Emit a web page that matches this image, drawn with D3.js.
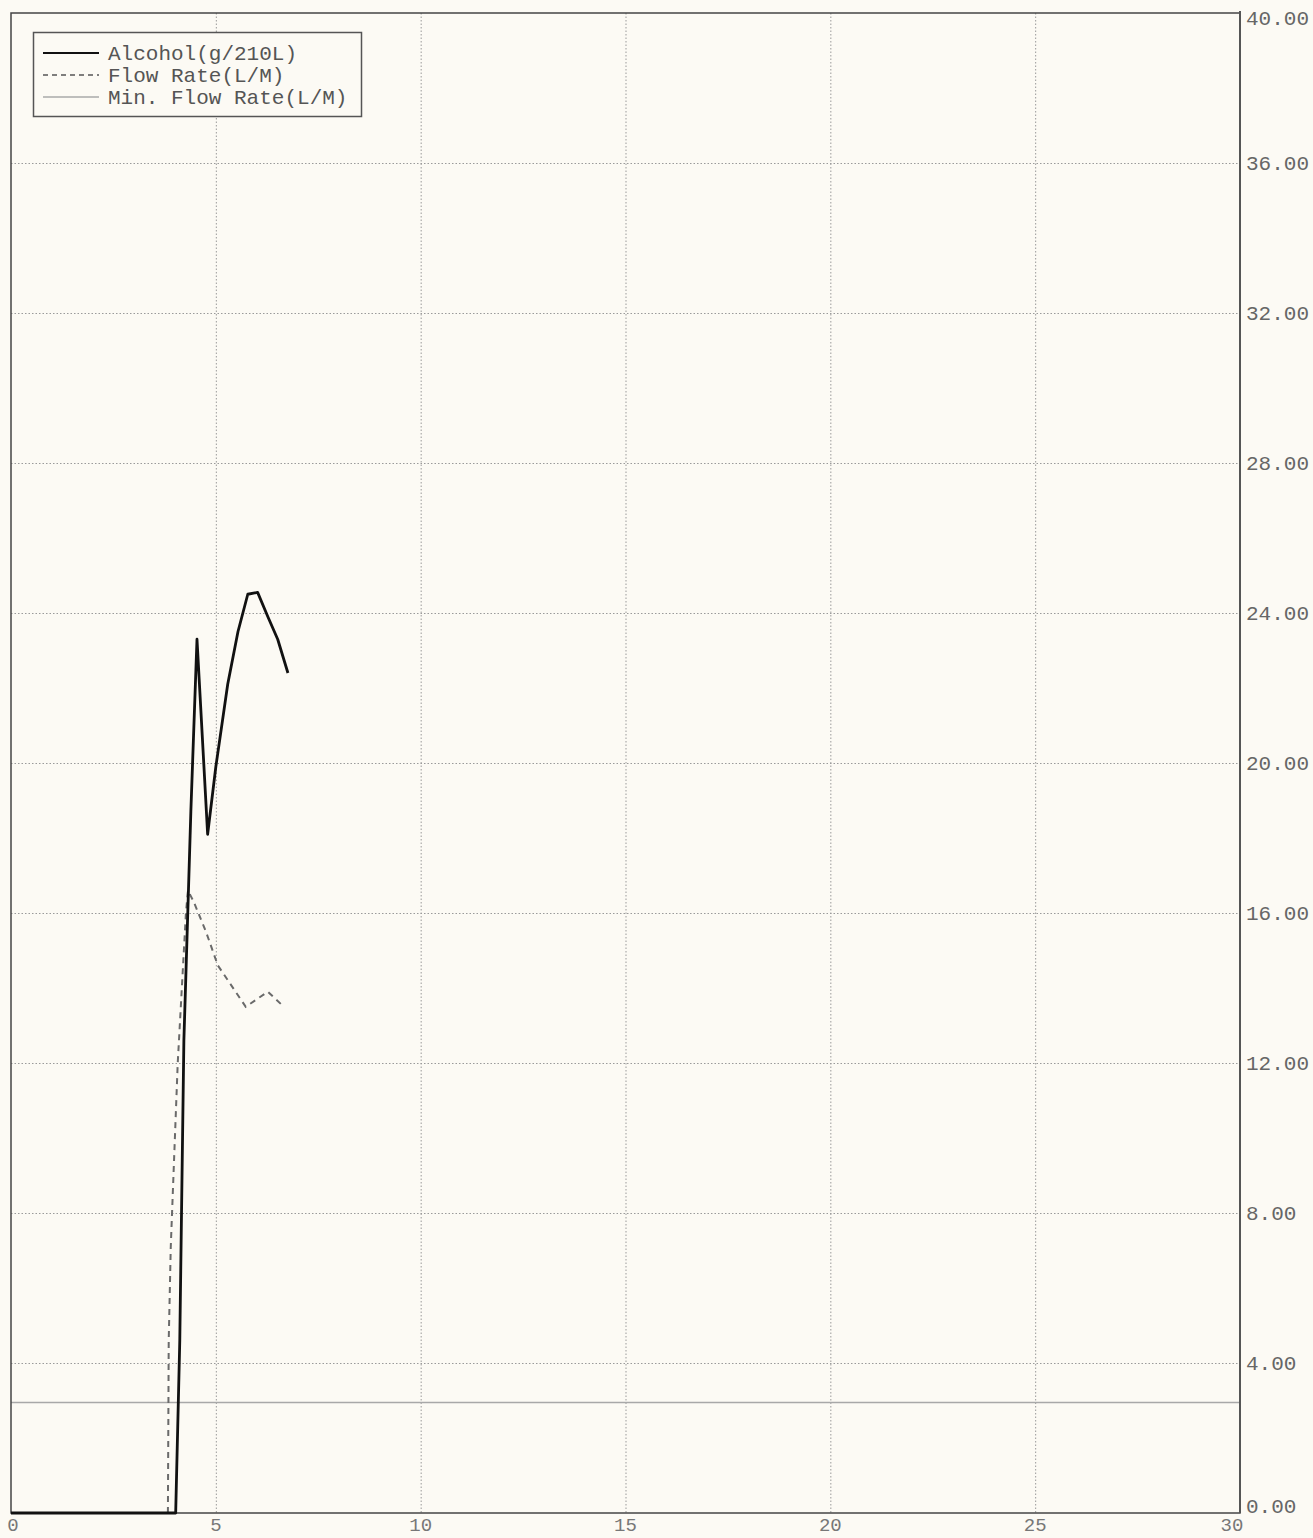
<!DOCTYPE html>
<html>
<head>
<meta charset="utf-8">
<script src="https://cdn.jsdelivr.net/npm/d3@7"></script>
<style>
  body { margin: 0; background: #fcfaf4; }
  text { font-family: "Liberation Mono", "DejaVu Sans Mono", monospace; }
</style>
</head>
<body>
<svg id="chart"></svg>
<script>
// time axis ticks and value axis ticks
const xTicks = [0, 5, 10, 15, 20, 25, 30];
const yTicks = [0, 4, 8, 12, 16, 20, 24, 28, 32, 36, 40];

// Alcohol (g/210L) trace
const alcoholX = [0, 4.02, 4.12, 4.22, 4.39, 4.54, 4.80, 5.00, 5.29, 5.54, 5.78, 6.02, 6.27, 6.51, 6.76];
const alcoholY = [0, 0, 4.6, 12.6, 18.7, 23.3, 18.1, 19.9, 22.1, 23.5, 24.5, 24.55, 23.9, 23.3, 22.4];

// Flow rate (L/M) trace
const flowX = [3.83, 3.85, 3.90, 4.07, 4.27, 4.32, 4.46, 4.76, 5.05, 5.73, 6.27, 6.66];
const flowY = [0, 4.6, 7.1, 12.0, 16.0, 16.6, 16.3, 15.5, 14.6, 13.5, 13.9, 13.5];

// minimum flow rate level
const minFlow = 2.95;

const legendNames = ["Alcohol(g/210L)", "Flow Rate(L/M)", "Min. Flow Rate(L/M)"];

const width = 1313;
const height = 1538;
const margin = { top: 13, right: 73, bottom: 25, left: 11 };

const svg = d3.select("#chart")
  .attr("width", width)
  .attr("height", height);

svg.append("rect")
  .attr("width", width)
  .attr("height", height)
  .attr("fill", "#fcfaf4");

const xScale = d3.scaleLinear()
  .domain([0, 30])
  .range([margin.left, width - margin.right]);
const yScale = d3.scaleLinear()
  .domain([0, 40])
  .range([height - margin.bottom, margin.top]);

// dotted grid
const grid = svg.append("g").attr("stroke", "#9a9a9a").attr("stroke-width", 1)
  .attr("stroke-dasharray", "1.5,2");
grid.selectAll("line.v")
  .data(xTicks.slice(1, -1))
  .enter()
  .append("line")
  .attr("x1", d => xScale(d) + 0.5)
  .attr("x2", d => xScale(d) + 0.5)
  .attr("y1", yScale(40))
  .attr("y2", yScale(0));
grid.selectAll("line.h")
  .data(yTicks.slice(1, -1))
  .enter()
  .append("line")
  .attr("x1", xScale(0))
  .attr("x2", xScale(30))
  .attr("y1", d => yScale(d) + 0.5)
  .attr("y2", d => yScale(d) + 0.5);

// min flow rate line
svg.append("line")
  .attr("x1", xScale(0))
  .attr("x2", xScale(30))
  .attr("y1", yScale(minFlow))
  .attr("y2", yScale(minFlow))
  .attr("stroke", "#a8a8a8")
  .attr("stroke-width", 1.5);

// frame
svg.append("rect")
  .attr("x", xScale(0))
  .attr("y", yScale(40))
  .attr("width", xScale(30) - xScale(0))
  .attr("height", yScale(0) - yScale(40))
  .attr("fill", "none")
  .attr("stroke", "#444")
  .attr("stroke-width", 1.5);

// right axis line a bit heavier
svg.append("line")
  .attr("x1", xScale(30))
  .attr("x2", xScale(30))
  .attr("y1", yScale(40) - 2)
  .attr("y2", yScale(0))
  .attr("stroke", "#555")
  .attr("stroke-width", 2);

// right axis labels
svg.append("g")
  .selectAll("text")
  .data(yTicks)
  .enter()
  .append("text")
  .attr("x", xScale(30) + 6)
  .attr("y", d => yScale(d) + (d === 40 ? 12 : d === 0 ? 0 : 7))
  .attr("font-size", 21)
  .attr("fill", "#666")
  .text(d => d3.format(".2f")(d));

// bottom axis labels
svg.append("g")
  .selectAll("text")
  .data(xTicks)
  .enter()
  .append("text")
  .attr("x", d => (d === 0 ? xScale(d) + 2 : d === 30 ? xScale(d) - 8 : xScale(d)))
  .attr("y", height - 7)
  .attr("text-anchor", "middle")
  .attr("font-size", 19)
  .attr("fill", "#777")
  .text(d => d);

const line = d3.line()
  .x(d => xScale(d[0]))
  .y(d => yScale(d[1]));

// flow rate trace
svg.append("path")
  .datum(flowX.map((x, i) => [x, flowY[i]]))
  .attr("d", line)
  .attr("fill", "none")
  .attr("stroke", "#6a6a6a")
  .attr("stroke-width", 2)
  .attr("stroke-dasharray", "6,5");

// alcohol trace
svg.append("path")
  .datum(alcoholX.map((x, i) => [x, alcoholY[i]]))
  .attr("d", line)
  .attr("fill", "none")
  .attr("stroke", "#111")
  .attr("stroke-width", 2.8)
  .attr("stroke-linejoin", "round");

// legend
const legend = svg.append("g");
legend.append("rect")
  .attr("x", 33.5)
  .attr("y", 32.5)
  .attr("width", 328)
  .attr("height", 84)
  .attr("fill", "#fcfaf4")
  .attr("stroke", "#555")
  .attr("stroke-width", 1.5);

const legendStyles = [
  { stroke: "#111", width: 2, dash: null },
  { stroke: "#555", width: 1.5, dash: "5,4" },
  { stroke: "#aaa", width: 1.5, dash: null }
];

legendNames.forEach((name, i) => {
  const y = 60 + i * 22;
  legend.append("line")
    .attr("x1", 43)
    .attr("x2", 99)
    .attr("y1", y - 7)
    .attr("y2", y - 7)
    .attr("stroke", legendStyles[i].stroke)
    .attr("stroke-width", legendStyles[i].width)
    .attr("stroke-dasharray", legendStyles[i].dash);
  legend.append("text")
    .attr("x", 108)
    .attr("y", y)
    .attr("font-size", 21)
    .attr("fill", "#555")
    .text(name);
});
</script>
</body>
</html>
